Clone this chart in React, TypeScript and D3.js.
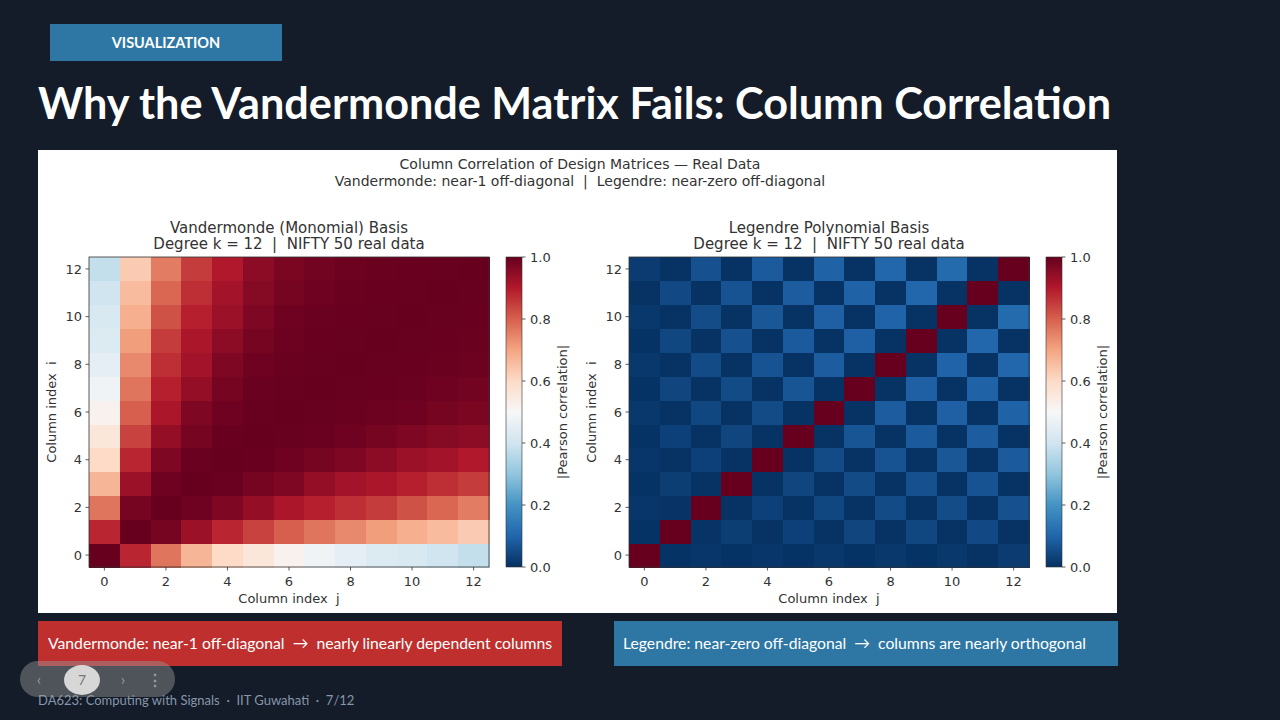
import React, { useEffect } from 'react';
import * as d3 from 'd3';

// ---------- data ----------
const columnIndex = [0, 1, 2, 3, 4, 5, 6, 7, 8, 9, 10, 11, 12];
const axisTicks = [0, 2, 4, 6, 8, 10, 12];
const colorbarTicks = [0, 0.2, 0.4, 0.6, 0.8, 1.0];

// |Pearson correlation| between monomial columns (row i, column j)
const vandermondeCorr = [
  [1.00, 0.88, 0.77, 0.67, 0.60, 0.56, 0.52, 0.48, 0.45, 0.43, 0.42, 0.40, 0.38],
  [0.88, 1.00, 0.98, 0.93, 0.88, 0.84, 0.80, 0.77, 0.74, 0.71, 0.68, 0.66, 0.63],
  [0.77, 0.98, 1.00, 0.99, 0.97, 0.94, 0.91, 0.89, 0.87, 0.85, 0.82, 0.79, 0.76],
  [0.67, 0.93, 0.99, 1.00, 0.995, 0.98, 0.97, 0.94, 0.92, 0.91, 0.89, 0.87, 0.85],
  [0.60, 0.88, 0.97, 0.995, 1.00, 0.998, 0.99, 0.98, 0.97, 0.95, 0.93, 0.92, 0.90],
  [0.56, 0.84, 0.94, 0.98, 0.998, 1.00, 0.999, 0.995, 0.99, 0.98, 0.97, 0.96, 0.95],
  [0.52, 0.80, 0.91, 0.97, 0.99, 0.999, 1.00, 0.999, 0.997, 0.993, 0.99, 0.98, 0.975],
  [0.48, 0.77, 0.89, 0.94, 0.98, 0.995, 0.999, 1.00, 0.999, 0.998, 0.995, 0.99, 0.985],
  [0.45, 0.74, 0.87, 0.92, 0.97, 0.99, 0.997, 0.999, 1.00, 0.999, 0.998, 0.996, 0.993],
  [0.43, 0.71, 0.85, 0.91, 0.95, 0.98, 0.993, 0.998, 0.999, 1.00, 0.999, 0.998, 0.996],
  [0.42, 0.68, 0.82, 0.89, 0.93, 0.97, 0.99, 0.995, 0.998, 0.999, 1.00, 0.999, 0.998],
  [0.40, 0.66, 0.79, 0.87, 0.92, 0.96, 0.98, 0.99, 0.996, 0.998, 0.999, 1.00, 0.999],
  [0.38, 0.63, 0.76, 0.85, 0.90, 0.95, 0.975, 0.985, 0.993, 0.996, 0.998, 0.999, 1.00],
];

// |Pearson correlation| between Legendre columns (row i, column j)
const legendreCorr = [
  [1, 0.005, 0.012, 0.005, 0.012, 0.005, 0.015, 0.005, 0.015, 0.005, 0.015, 0.004, 0.02],
  [0.005, 1, 0.006, 0.025, 0.004, 0.03, 0.004, 0.038, 0.004, 0.042, 0.004, 0.045, 0.004],
  [0.012, 0.006, 1, 0.004, 0.03, 0.004, 0.042, 0.004, 0.05, 0.004, 0.052, 0.004, 0.06],
  [0.005, 0.025, 0.004, 1, 0.004, 0.038, 0.004, 0.05, 0.004, 0.06, 0.004, 0.065, 0.004],
  [0.012, 0.004, 0.03, 0.004, 1, 0.004, 0.05, 0.004, 0.065, 0.004, 0.072, 0.004, 0.078],
  [0.005, 0.03, 0.004, 0.038, 0.004, 1, 0.004, 0.068, 0.004, 0.078, 0.004, 0.082, 0.004],
  [0.015, 0.004, 0.042, 0.004, 0.05, 0.004, 1, 0.004, 0.082, 0.004, 0.088, 0.004, 0.092],
  [0.005, 0.038, 0.004, 0.05, 0.004, 0.068, 0.004, 1, 0.004, 0.088, 0.004, 0.092, 0.004],
  [0.015, 0.004, 0.05, 0.004, 0.065, 0.004, 0.082, 0.004, 1, 0.004, 0.095, 0.004, 0.102],
  [0.005, 0.042, 0.004, 0.06, 0.004, 0.078, 0.004, 0.088, 0.004, 1, 0.004, 0.102, 0.004],
  [0.015, 0.004, 0.052, 0.004, 0.072, 0.004, 0.088, 0.004, 0.095, 0.004, 1, 0.004, 0.11],
  [0.004, 0.045, 0.004, 0.065, 0.004, 0.082, 0.004, 0.092, 0.004, 0.102, 0.004, 1, 0.004],
  [0.02, 0.004, 0.06, 0.004, 0.078, 0.004, 0.092, 0.004, 0.102, 0.004, 0.11, 0.004, 1],
];

// matplotlib RdBu_r control colours (value 0 -> 1)
const rdbuR = [
  '#053061', '#2166ac', '#4393c3', '#92c5de', '#d1e5f0', '#f7f7f7',
  '#fddbc7', '#f4a582', '#d6604d', '#b2182b', '#67001f',
];
const rdbuStops = [0, 0.1, 0.2, 0.3, 0.4, 0.5, 0.6, 0.7, 0.8, 0.9, 1.0];

const colour = d3
  .scaleLinear<string>()
  .domain(rdbuStops)
  .range(rdbuR)
  .interpolate(d3.interpolateRgb)
  .clamp(true);

const MPL_FONT = "'DejaVu Sans', sans-serif";
const SLIDE_FONT = "Lato, 'Open Sans', sans-serif";
const INK = '#333333';

type PanelProps = {
  id: string;
  x0: number;
  y0: number;
  w: number;
  h: number;
  cbX: number;
  matrix: number[][];
  title1: string;
  title2: string;
};

function Panel({ id, x0, y0, w, h, cbX, matrix, title1, title2 }: PanelProps) {
  const x = d3.scaleBand<number>().domain(columnIndex).range([x0, x0 + w]);
  const y = d3.scaleBand<number>().domain(columnIndex).range([y0 + h, y0]);
  const cbW = 16;
  const cb = d3.scaleLinear().domain([0, 1]).range([y0 + h, y0]);
  const bw = x.bandwidth();
  const bh = y.bandwidth();
  const cx = x0 + w / 2;
  const tick = 3.5;
  return (
    <g>
      <defs>
        <linearGradient id={`cb-${id}`} x1="0" y1="1" x2="0" y2="0">
          {rdbuStops.map((s, k) => (
            <stop key={k} offset={`${s * 100}%`} stopColor={rdbuR[k]} />
          ))}
        </linearGradient>
      </defs>
      {/* titles */}
      <text x={cx} y={y0 - 24} textAnchor="middle" fontFamily={MPL_FONT} fontSize={15} fill={INK}>
        {title1}
      </text>
      <text x={cx} y={y0 - 8} textAnchor="middle" fontFamily={MPL_FONT} fontSize={15} fill={INK} style={{ whiteSpace: 'pre' }}>
        {title2}
      </text>
      {/* cells */}
      <g shapeRendering="crispEdges">
        {matrix.map((row, i) =>
          row.map((v, j) => (
            <rect
              key={`${i}-${j}`}
              x={x(j)!}
              y={y(i)!}
              width={bw + 0.6}
              height={bh + 0.6}
              fill={colour(v)}
            />
          ))
        )}
      </g>
      <rect x={x0} y={y0} width={w} height={h} fill="none" stroke={INK} strokeWidth={0.8} />
      {/* x ticks */}
      {axisTicks.map((t) => {
        const px = x(t)! + bw / 2;
        return (
          <g key={`xt${t}`}>
            <line x1={px} x2={px} y1={y0 + h} y2={y0 + h + tick} stroke={INK} strokeWidth={0.8} />
            <text x={px} y={y0 + h + 19} textAnchor="middle" fontFamily={MPL_FONT} fontSize={13} fill={INK}>
              {t}
            </text>
          </g>
        );
      })}
      {/* y ticks */}
      {axisTicks.map((t) => {
        const py = y(t)! + bh / 2;
        return (
          <g key={`yt${t}`}>
            <line x1={x0 - tick} x2={x0} y1={py} y2={py} stroke={INK} strokeWidth={0.8} />
            <text x={x0 - 7} y={py + 4.7} textAnchor="end" fontFamily={MPL_FONT} fontSize={13} fill={INK}>
              {t}
            </text>
          </g>
        );
      })}
      <text x={cx} y={y0 + h + 36} textAnchor="middle" fontFamily={MPL_FONT} fontSize={13} fill={INK} style={{ whiteSpace: 'pre' }}>
        {'Column index  j'}
      </text>
      <text
        transform={`translate(${x0 - 33},${y0 + h / 2}) rotate(-90)`}
        textAnchor="middle"
        fontFamily={MPL_FONT}
        fontSize={13}
        fill={INK}
        style={{ whiteSpace: 'pre' }}
      >
        {'Column index  i'}
      </text>
      {/* colorbar */}
      <rect x={cbX} y={y0} width={cbW} height={h} fill={`url(#cb-${id})`} />
      <rect x={cbX} y={y0} width={cbW} height={h} fill="none" stroke={INK} strokeWidth={0.6} />
      {colorbarTicks.map((t) => (
        <g key={`cb${t}`}>
          <line x1={cbX + cbW} x2={cbX + cbW + tick} y1={cb(t)} y2={cb(t)} stroke={INK} strokeWidth={0.8} />
          <text x={cbX + cbW + 8} y={cb(t) + 4.7} fontFamily={MPL_FONT} fontSize={13} fill={INK}>
            {t.toFixed(1)}
          </text>
        </g>
      ))}
      <text
        transform={`translate(${cbX + cbW + 45},${y0 + h / 2}) rotate(-90)`}
        textAnchor="middle"
        fontFamily={MPL_FONT}
        fontSize={13}
        fill={INK}
      >
        |Pearson correlation|
      </text>
    </g>
  );
}

export default function App() {
  useEffect(() => {
    document.body.style.margin = '0';
  }, []);
  return (
    <svg width={1280} height={720} style={{ display: 'block' }} xmlns="http://www.w3.org/2000/svg">
      <rect x={0} y={0} width={1280} height={720} fill="#131c28" />
      {/* tag */}
      <rect x={50} y={24} width={232} height={37} fill="#2e77a5" />
      <text x={166} y={47.5} textAnchor="middle" fontFamily={SLIDE_FONT} fontWeight={700} fontSize={14.5} fill="#ffffff">
        VISUALIZATION
      </text>
      {/* slide title */}
      <text
        x={38}
        y={119}
        fontFamily={SLIDE_FONT}
        fontWeight={700}
        fontSize={44}
        fill="#ffffff"
        textLength={1073}
        lengthAdjust="spacingAndGlyphs"
      >
        Why the Vandermonde Matrix Fails: Column Correlation
      </text>
      {/* figure panel */}
      <rect x={38} y={150} width={1079} height={463} fill="#ffffff" />
      <text x={580} y={169} textAnchor="middle" fontFamily={MPL_FONT} fontSize={14} fill={INK}>
        Column Correlation of Design Matrices — Real Data
      </text>
      <text x={580} y={186} textAnchor="middle" fontFamily={MPL_FONT} fontSize={14} fill={INK} style={{ whiteSpace: 'pre' }}>
        {'Vandermonde: near-1 off-diagonal  |  Legendre: near-zero off-diagonal'}
      </text>
      <Panel
        id="v"
        x0={89}
        y0={257}
        w={400}
        h={310}
        cbX={506}
        matrix={vandermondeCorr}
        title1="Vandermonde (Monomial) Basis"
        title2={'Degree k = 12  |  NIFTY 50 real data'}
      />
      <Panel
        id="l"
        x0={629}
        y0={257}
        w={400}
        h={310}
        cbX={1046}
        matrix={legendreCorr}
        title1="Legendre Polynomial Basis"
        title2={'Degree k = 12  |  NIFTY 50 real data'}
      />
      {/* callout boxes */}
      <rect x={38} y={621} width={524} height={45} fill="#be2f2e" />
      <text
        x={48}
        y={649}
        fontFamily={SLIDE_FONT}
        fontSize={16}
        fill="#ffffff"
        style={{ whiteSpace: 'pre' }}
        textLength={504}
        lengthAdjust="spacingAndGlyphs"
      >
        {'Vandermonde: near-1 off-diagonal  →  nearly linearly dependent columns'}
      </text>
      <rect x={614} y={621} width={504} height={45} fill="#2e77a4" />
      <text
        x={623}
        y={649}
        fontFamily={SLIDE_FONT}
        fontSize={16}
        fill="#ffffff"
        style={{ whiteSpace: 'pre' }}
        textLength={463}
        lengthAdjust="spacingAndGlyphs"
      >
        {'Legendre: near-zero off-diagonal  →  columns are nearly orthogonal'}
      </text>
      {/* footer */}
      <text x={38} y={705} fontFamily={SLIDE_FONT} fontSize={13} fill="#8796ab" style={{ whiteSpace: 'pre' }}>
        {'DA623: Computing with Signals  ·  IIT Guwahati  ·  7/12'}
      </text>
      {/* player overlay */}
      <rect x={20} y={661} width={155} height={36} rx={18} fill="#9a9a9a" fillOpacity={0.45} />
      <ellipse cx={82} cy={680} rx={18} ry={15} fill="#e6e6e6" fillOpacity={0.9} />
      <text x={82} y={685} textAnchor="middle" fontFamily={SLIDE_FONT} fontSize={14} fill="#777777">
        7
      </text>
      <text x={39} y={685} textAnchor="middle" fontFamily={SLIDE_FONT} fontSize={16} fill="#b8b8b8" fillOpacity={0.7}>
        ‹
      </text>
      <text x={123} y={685} textAnchor="middle" fontFamily={SLIDE_FONT} fontSize={16} fill="#b8b8b8" fillOpacity={0.7}>
        ›
      </text>
      <text x={155} y={686} textAnchor="middle" fontFamily={SLIDE_FONT} fontSize={16} fontWeight={700} fill="#b8b8b8" fillOpacity={0.7}>
        ⋮
      </text>
    </svg>
  );
}
